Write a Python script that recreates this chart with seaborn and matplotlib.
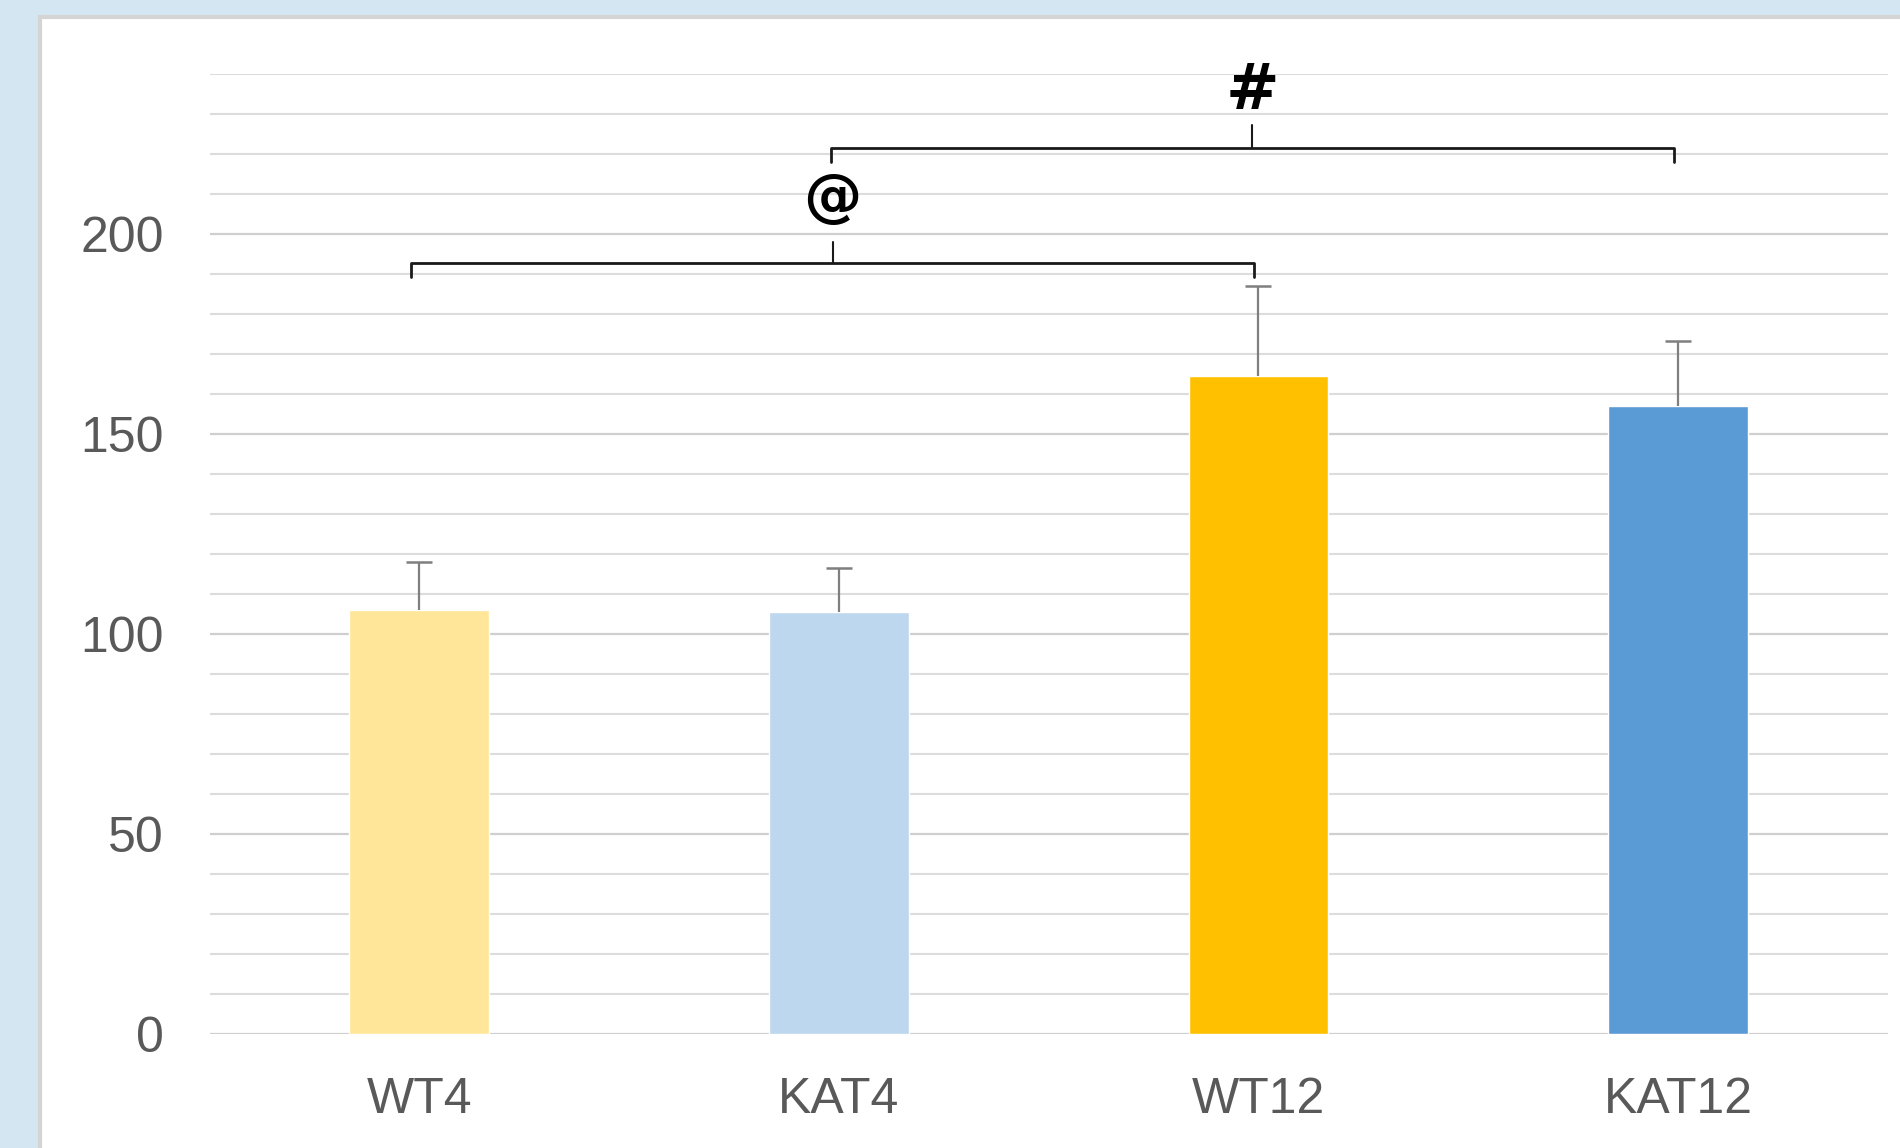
import matplotlib
matplotlib.use("Agg")
import matplotlib.pyplot as plt
import matplotlib.patches as mpatches
import numpy as np
import pandas as pd
import seaborn as sns

# ---- data ----
categories = ["WT4", "KAT4", "WT12", "KAT12"]
means = [106, 105.5, 164.5, 157.0]
errors = [12, 11, 22.5, 16.3]
colors = ["#FFE699", "#BDD7EE", "#FFC000", "#5B9BD5"]
major_ticks = [0, 50, 100, 150, 200]
sig_labels = ["@", "#"]

sns.set_theme(style="white")
plt.rcParams["font.family"] = ["Liberation Sans", "DejaVu Sans"]

fig = plt.figure(figsize=(19, 11.48), dpi=100)
fig.patch.set_facecolor("#D5E6F3")
# white panel with grey border
panel = mpatches.Rectangle((40 / 1900, -0.01), 1.05, 1 - 17 / 1148 + 0.01,
                           transform=fig.transFigure, facecolor="white",
                           edgecolor="#D4D4D4", linewidth=3, zorder=-10)
fig.patches.append(panel)

ax = fig.add_axes([0.1103, 0.0997, 0.9936 - 0.1103, 0.9356 - 0.0997])
ax.set_zorder(1)
ax.set_facecolor("none")

df = pd.DataFrame({"group": categories, "value": means})
sns.barplot(data=df, x="group", y="value", hue="group", palette=colors,
            order=categories, hue_order=categories, width=0.333,
            legend=False, ax=ax, saturation=1, zorder=3, errorbar=None)

xs = np.arange(len(categories))
tops = np.array(means) + np.array(errors)
ax.vlines(xs, means, tops, color="#7F7F7F", lw=1.6, zorder=4)
ax.hlines(tops, xs - 0.031, xs + 0.031, color="#7F7F7F", lw=1.8, zorder=4)

ax.set_xlim(-0.5, 3.5)
ax.set_ylim(0, 240)
ax.set_yticks(major_ticks)
ax.set_yticks(np.arange(0, 241, 10), minor=True)
ax.grid(which="major", axis="y", color="#CFCFCF", linewidth=1.6, zorder=0)
ax.grid(which="minor", axis="y", color="#DCDCDC", linewidth=1.5, zorder=0)
ax.set_axisbelow(True)
for s in ax.spines.values():
    s.set_visible(False)
ax.tick_params(axis="both", which="both", length=0, labelsize=36, labelcolor="#595959")
ax.tick_params(axis="y", pad=33)
ax.tick_params(axis="x", pad=31)
ax.set_xlabel("")
ax.set_ylabel("")

# significance brackets
def bracket(x1, x2, y, drop, tick, label, ly, fs):
    ax.plot([x1, x1, x2, x2], [y - drop, y, y, y - drop], color="#1A1A1A",
            lw=2.0, solid_joinstyle="round", clip_on=False, zorder=5)
    xm = (x1 + x2) / 2
    ax.plot([xm, xm], [y, y + tick], color="#1A1A1A", lw=1.5, clip_on=False, zorder=5)
    ax.text(xm, ly, label, ha="center", va="center", fontsize=fs,
            fontweight="bold", family="DejaVu Sans",
            color="black", zorder=6)

bracket(-0.02, 1.99, 192.7, 3.4, 5.2, sig_labels[0], 208.8, 42)
bracket(0.98, 2.99, 221.5, 3.6, 5.7, sig_labels[1], 235.8, 46)

fig.savefig("out.png", dpi=100, facecolor=fig.get_facecolor())
